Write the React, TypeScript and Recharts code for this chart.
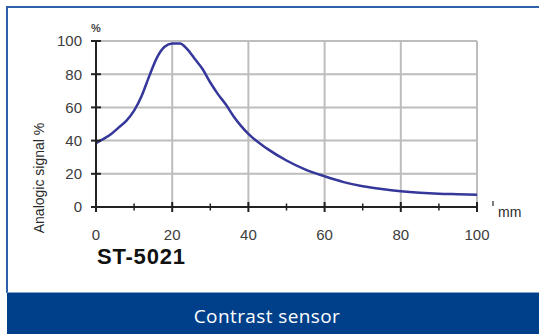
import { LineChart, Line, XAxis, YAxis, CartesianGrid, Label } from "recharts";

// distance (mm) vs analogic signal (%)
const distanceMm = [0, 2, 4, 6, 8, 10, 12, 14, 16, 18, 20, 22, 24, 26, 28, 30, 32, 34, 36, 38, 40, 45, 50, 55, 60, 65, 70, 75, 80, 85, 90, 95, 100];
const signalPct = [38.5, 41, 44, 48, 52, 58, 67, 79, 90, 96.5, 98.5, 98.5, 95, 89, 83, 75, 68, 62, 55, 49, 44, 35, 28, 22.5, 18.5, 15, 12.5, 10.8, 9.5, 8.6, 8, 7.7, 7.4];

const xTicks = [0, 10, 20, 30, 40, 50, 60, 70, 80, 90, 100];
const yTicks = [0, 20, 40, 60, 80, 100];
const gridX = [20, 40, 60, 80, 100];
const gridY = [20, 40, 60, 80, 100];

const data = distanceMm.map((mm, i) => ({ mm, signal: signalPct[i] }));

const AXIS = "#222";
const GRID = "#bdbdbd";
const TICK_TEXT = "#3c3c3c";
const FONT = "'Liberation Sans', Arial, sans-serif";

function XTick({ x, y, payload }: any) {
  const v = payload.value;
  const major = v % 20 === 0;
  const ay = y - 22;
  const h = major ? 5 : 3.5;
  return (
    <g>
      <line x1={x} x2={x} y1={ay - h} y2={ay + h} stroke={AXIS} strokeWidth={major ? 2 : 1.5} />
      {major && (
        <text x={x} y={y} dy="0.71em" textAnchor="middle" fontSize={15} fontFamily={FONT} fill={TICK_TEXT}>
          {v}
        </text>
      )}
    </g>
  );
}

function YTick({ x, y, payload }: any) {
  const ax = x + 14;
  return (
    <g>
      <line x1={ax - 5} x2={ax + 5} y1={y} y2={y} stroke={AXIS} strokeWidth={2} />
      <text x={x} y={y} dy="0.36em" textAnchor="end" fontSize={15} fontFamily={FONT} fill={TICK_TEXT}>
        {payload.value}
      </text>
    </g>
  );
}

// axis titles, unit and model name, placed relative to the x axis box
function AxisTexts({ viewBox }: any) {
  const { x, y, width } = viewBox;
  const end = x + width;
  const ly = y - 29;
  const lx = x - 57;
  return (
    <g>
      <line x1={end + 16} x2={end + 16} y1={y - 6} y2={y - 1} stroke="#555" strokeWidth={1.5} />
      <text x={end + 21} y={y + 5} dy="0.35em" fontSize={14} fontFamily={FONT} fill="#2a2a2a">
        mm
      </text>
      <text
        x={lx}
        y={ly}
        transform={`rotate(-90 ${lx} ${ly})`}
        textAnchor="middle"
        dy="0.35em"
        fontSize={14}
        fontFamily={FONT}
        fill="#2a2a2a"
      >
        Analogic signal %
      </text>
      <text x={x} y={y - 179} dy="0.35em" textAnchor="middle" fontSize={11} fontWeight="bold" fontFamily={FONT} fill="#444">
        %
      </text>
      <text x={x + 1} y={y + 57} fontSize={22} fontWeight="bold" letterSpacing={0.8} fontFamily={FONT} fill="#111">
        ST-5021
      </text>
    </g>
  );
}

export default function App() {
  return (
    <div style={{ position: "absolute", left: 0, top: 0, width: 539, height: 334, background: "#fff", overflow: "hidden" }}>
      <div
        style={{
          marginLeft: 6,
          marginTop: 6,
          width: 533,
          height: 287,
          borderLeft: "2px solid #2d62ab",
          borderTop: "2px solid #2d62ab",
          borderBottom: "1px solid #86a3cc",
          boxSizing: "border-box",
        }}
      >
        <LineChart width={531} height={284} data={data} margin={{ top: 33, right: 62, left: 18, bottom: 55 }}>
          <CartesianGrid stroke={GRID} strokeWidth={2} horizontalValues={gridY} verticalValues={gridX} />
          <XAxis
            dataKey="mm"
            type="number"
            domain={[0, 100]}
            ticks={xTicks}
            interval={0}
            height={30}
            tickSize={0}
            tickMargin={22}
            tickLine={false}
            tick={<XTick />}
            axisLine={{ stroke: AXIS, strokeWidth: 2 }}
          >
            <Label content={<AxisTexts />} />
          </XAxis>
          <YAxis
            type="number"
            domain={[0, 100]}
            ticks={yTicks}
            interval={0}
            width={70}
            tickSize={0}
            tickMargin={14}
            tickLine={false}
            tick={<YTick />}
            axisLine={{ stroke: AXIS, strokeWidth: 2 }}
          />
          <Line
            type="monotone"
            dataKey="signal"
            stroke="#35379a"
            strokeWidth={2.5}
            dot={false}
            isAnimationActive={false}
          />
        </LineChart>
      </div>
      <div
        style={{
          marginLeft: 7,
          width: 532,
          height: 41,
          overflow: "hidden",
          background: "#00408a",
          color: "#fff",
          fontFamily: "'Open Sans', sans-serif",
          fontSize: 19,
          letterSpacing: 0.4,
          lineHeight: "46px",
          textAlign: "center",
          paddingRight: 12,
          boxSizing: "border-box",
        }}
      >
        Contrast sensor
      </div>
    </div>
  );
}
